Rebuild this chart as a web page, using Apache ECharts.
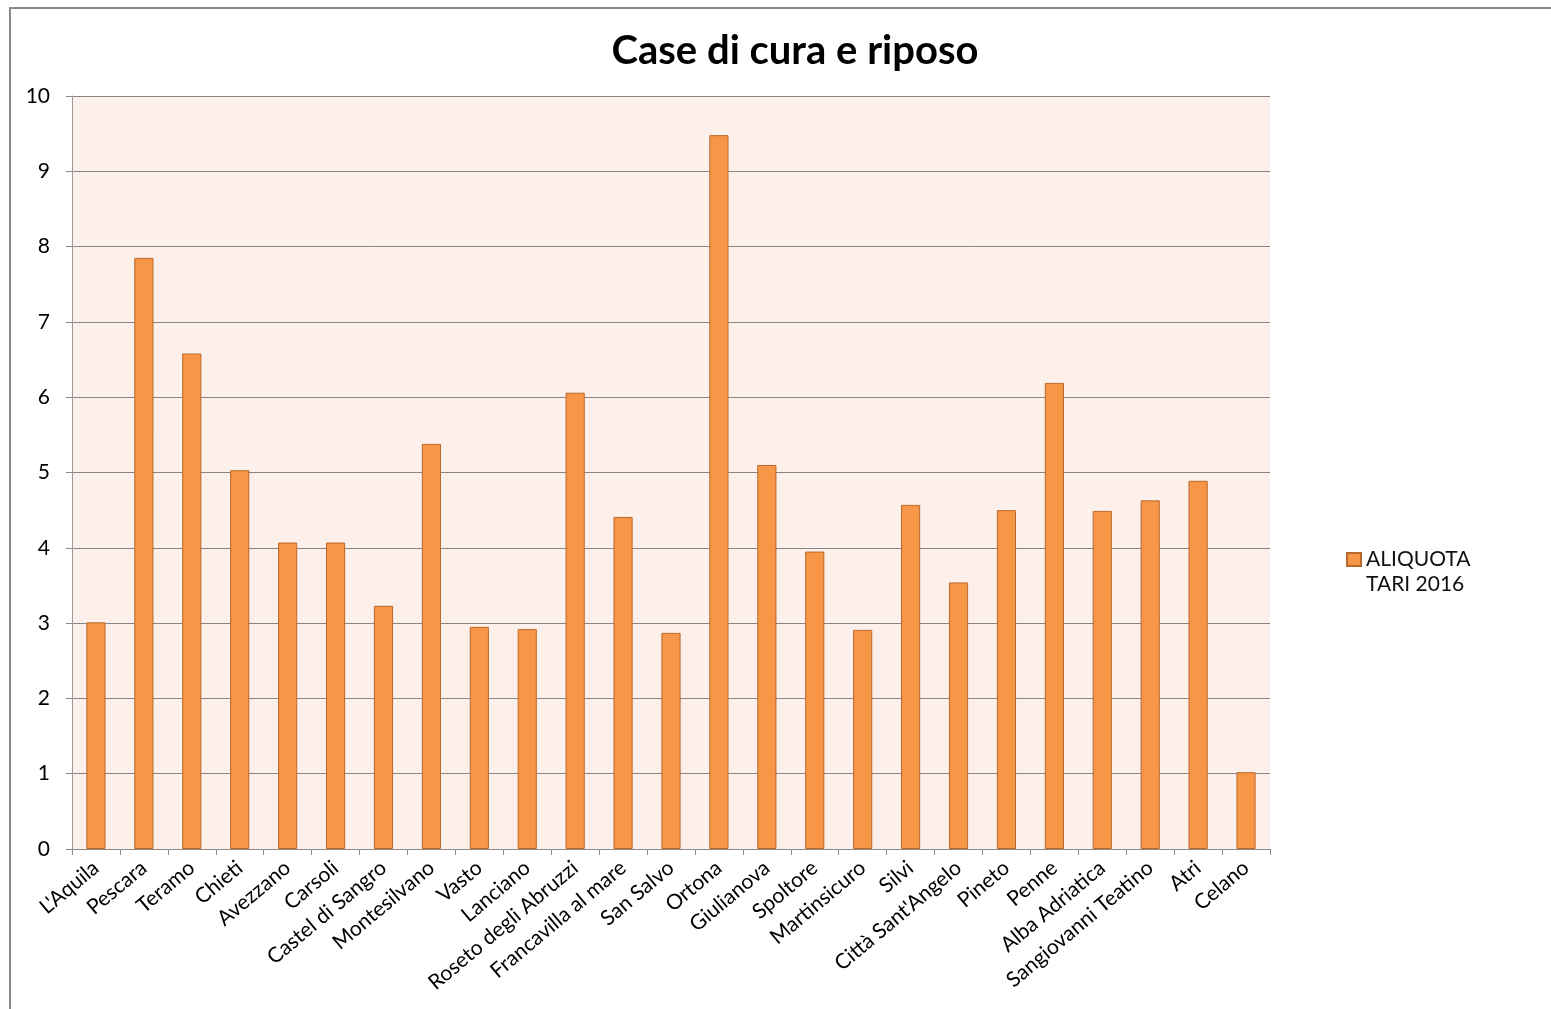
<!DOCTYPE html>
<html><head><meta charset="utf-8">
<script src="https://cdn.jsdelivr.net/npm/echarts@6/dist/echarts.min.js"></script>
<style>html,body{margin:0;padding:0;background:#fff}#c{width:1551px;height:1009px}</style>
</head><body><div id="c"></div>
<script>
var titleText = "Case di cura e riposo";
var seriesName = "ALIQUOTA\nTARI 2016";
var categories = ["L'Aquila","Pescara","Teramo","Chieti","Avezzano","Carsoli","Castel di Sangro","Montesilvano","Vasto","Lanciano","Roseto degli Abruzzi","Francavilla al mare","San Salvo","Ortona","Giulianova","Spoltore","Martinsicuro","Silvi","Città Sant'Angelo","Pineto","Penne","Alba Adriatica","Sangiovanni Teatino","Atri","Celano"];
var values = [3.01,7.85,6.58,5.03,4.07,4.07,3.23,5.38,2.95,2.92,6.06,4.41,2.87,9.48,5.10,3.95,2.91,4.57,3.54,4.50,6.19,4.49,4.63,4.89,1.02];
var yTicks = [0,1,2,3,4,5,6,7,8,9,10];

var font = "Lato, 'Open Sans', sans-serif";
var chart = echarts.init(document.getElementById('c'));
chart.setOption({
  animation: false,
  backgroundColor: '#fff',
  title: {text: titleText, left: 790, top: 26, textAlign: 'center',
    textStyle: {fontFamily: font, fontSize: 40, fontWeight: 'bold', color: '#000'}},
  graphic: [{type: 'rect', shape: {x: 10, y: 8, width: 1600, height: 1100},
    style: {fill: 'none', stroke: '#8a8a8a', lineWidth: 2}, silent: true}],
  legend: {orient: 'vertical', left: 1341, top: 542, itemWidth: 14, itemHeight: 38, itemGap: 4,
    icon: 'path://M0,0L14,0L14,13L0,13Z M7,38',
    data: [seriesName],
    textStyle: {fontFamily: font, fontSize: 21, color: '#111', lineHeight: 25}},
  grid: {left: 72, right: 281, top: 96, bottom: 160, containLabel: false,
    show: true, backgroundColor: '#FDEFEA', borderWidth: 0},
  xAxis: {type: 'category', data: categories,
    axisLine: {lineStyle: {color: '#8a8a8a', width: 1}},
    axisTick: {show: true, length: 6, lineStyle: {color: '#8a8a8a'}},
    axisLabel: {rotate: 40, interval: 0, margin: 16, fontFamily: font, fontSize: 21, color: '#000'}},
  yAxis: {type: 'value', min: yTicks[0], max: yTicks[yTicks.length-1], interval: 1,
    axisLine: {show: true, lineStyle: {color: '#9a9a9a', width: 1}},
    axisTick: {show: true, length: 6, lineStyle: {color: '#8a8a8a'}},
    splitLine: {lineStyle: {color: '#868686', width: 1}},
    axisLabel: {margin: 22, fontFamily: font, fontSize: 21, color: '#000'}},
  series: [{type: 'bar', name: seriesName, data: values, barWidth: '40%',
    itemStyle: {color: '#F79646', borderColor: '#B9682C', borderWidth: 1}}]
});
</script></body></html>
